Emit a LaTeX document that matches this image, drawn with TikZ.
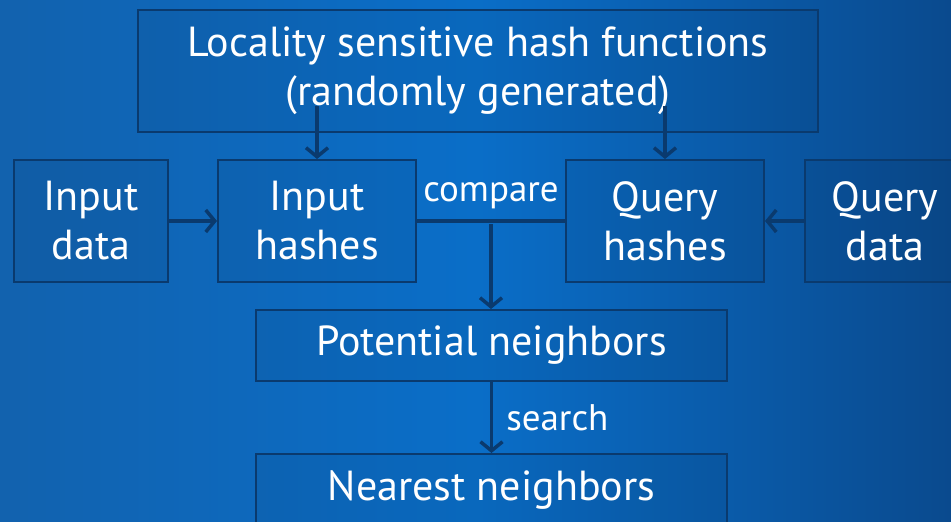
\documentclass[tikz,border=0pt]{standalone}
\usepackage{fontspec}
\setmainfont{PT Sans}
\usepackage{tikz}
\usetikzlibrary{arrows.meta,calc}

\definecolor{bgleft}{HTML}{1262AE}
\definecolor{bgmid}{HTML}{0A6EC8}
\definecolor{bgright}{HTML}{0A4A8E}
\definecolor{linec}{HTML}{0A3A6E}

\begin{document}
\begin{tikzpicture}[x=1pt, y=-1pt,
    box/.style={draw=linec, line width=2pt, fill=black, fill opacity=0.05, text opacity=1,
        text=white, font=\fontsize{42}{49}\selectfont, align=center, inner sep=0pt},
    arr/.style={draw=linec, line width=3.5pt, -{Straight Barb[length=9pt, width=22pt, line width=3.5pt]}},
    link/.style={draw=linec, line width=3.5pt},
    lbl/.style={text=white, font=\fontsize{37}{44}\selectfont, inner sep=0pt}]
    % Background
    \useasboundingbox (0,0) rectangle (951,522);
    \shade[left color=bgleft, right color=bgright, middle color=bgmid] (0,0) rectangle (951,522);

    % Boxes
    \node[box, minimum width=680pt, minimum height=122pt] (lsh) at (478,71) {Locality sensitive hash functions\\(randomly generated)};
    \node[box, minimum width=154pt, minimum height=122pt] (indata) at (91,221) {Input\\data};
    \node[box, minimum width=198pt, minimum height=122pt] (inhash) at (317,221) {Input\\hashes};
    \node[box, minimum width=198pt, minimum height=122pt] (qhash) at (665,221) {Query\\hashes};
    \node[box, minimum width=160pt, minimum height=122pt] (qdata) at (885,221) {Query\\data};
    \node[box, minimum width=471pt, minimum height=71pt] (potn) at (491.5,345.5) {Potential neighbors};
    \node[box, minimum width=471pt, minimum height=72pt] (near) at (491.5,490) {Nearest neighbors};

    % Hash functions feed both hash boxes
    \draw[arr] ($(inhash.north |- lsh.south)+(0,-27)$) -- (inhash.north);
    \draw[arr] ($(qhash.north |- lsh.south)+(0,-27)$) -- (qhash.north);

    % Data to hashes
    \draw[arr] (indata.east) -- (inhash.west);
    \draw[arr] (qdata.west) -- (qhash.east);

    % Compare
    \draw[link] (inhash.east) -- (qhash.west) coordinate[pos=0.5] (cmp);
    \node[lbl, anchor=south] (cmplbl) at ($(cmp)+(0,-12)$) {compare};
    \draw[arr] ($(cmp)+(0,3)$) -- (potn.north -| cmp);

    % Search
    \draw[arr] (potn.south) -- (near.north) node[lbl, midway, right=13pt] (srch) {search};
\end{tikzpicture}
\end{document}
